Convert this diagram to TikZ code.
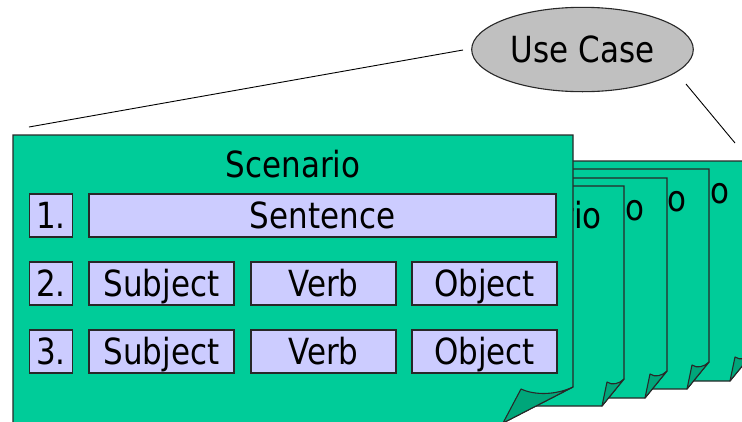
\documentclass[tikz,border=0pt]{standalone}
\usepackage{fontspec}
\setmainfont[FakeStretch=0.86]{DejaVu Sans}
\usetikzlibrary{shapes.geometric}
\definecolor{pagegreen}{RGB}{0,204,153}
\definecolor{flapgreen}{RGB}{0,166,122}
\definecolor{boxblue}{RGB}{204,204,255}
\definecolor{ucgray}{RGB}{192,192,192}
\definecolor{edge}{RGB}{40,40,40}
\begin{document}
\begin{tikzpicture}[x=1pt,y=-1pt,
  every node/.style={font=\fontsize{36}{40}\selectfont, text height=26.3pt, text depth=0pt},
  pageshape/.style={fill=pagegreen, draw=edge, line width=1.1pt, line join=miter},
  flapshape/.style={fill=flapgreen, draw=edge, line width=1.1pt, line join=round},
  cell/.style={draw=edge, fill=boxblue, line width=1.1pt, inner sep=0pt, minimum height=43pt},
  numcell/.style={cell, minimum width=43pt},
  wordcell/.style={cell, minimum width=145pt},
  pagetitle/.style={inner sep=0pt, text height=, text depth=},
  link/.style={draw=black, line width=0.9pt}]
\useasboundingbox (0,0) rectangle (742,421);
\clip (0,0) rectangle (742,421);

% connectors from the use case
\node[ellipse, draw=edge, line width=1.1pt, fill=ucgray, minimum width=221.6pt, minimum height=84.4pt, inner sep=0pt] (uc) at (582.5,49.5) {Use Case};
\coordinate (l1a) at (29,127);
\coordinate (l1b) at (463,50);
\coordinate (l2a) at (686,84);
\coordinate (l2b) at (735,143);
\draw[link] (l1a) -- (l1b);
\draw[link] (l2a) -- (l2b);

% stacked back pages
\foreach \R/\T/\n in {752/161/5, 709/169/4, 667/178/3, 624/186/2}{
  \pgfmathsetmacro{\B}{\T+220}
  \draw[pageshape] (\R-300,\T) -- (\R,\T) -- (\R,\B-27) -- (\R-22,\B) -- (\R-300,\B) -- cycle;
  \draw[flapshape] (\R-17,\B-24) .. controls (\R-12,\B-20.5) and (\R-5,\B-22) .. (\R,\B-27) -- (\R-22,\B) -- cycle;
  \node[pagetitle, anchor=base east] (sc\n) at (\R-22,\T+42) {Scenario};
}

% front page
\draw[pageshape] (13,135) -- (573,135) -- (573,387) -- (503,423) -- (13,423) -- cycle;
\draw[flapshape] (521,389) .. controls (535,395.5) and (556,395) .. (573,387) -- (503,423) -- cycle;
\node[pagetitle, anchor=base] (sc1) at (293,177) {Scenario};

% rows
\node[numcell] (n1) at (50.8,215.5) {1.};
\node[cell, minimum width=467pt] (sent) at (322.5,215.5) {Sentence};

\node[numcell] (n2) at (50.8,283.5) {2.};
\node[wordcell] (s2) at (161.5,283.5) {Subject};
\node[wordcell] (v2) at (323.5,283.5) {Verb};
\node[wordcell] (o2) at (484.5,283.5) {Object};

\node[numcell] (n3) at (50.8,351.5) {3.};
\node[wordcell] (s3) at (161.5,351.5) {Subject};
\node[wordcell] (v3) at (323.5,351.5) {Verb};
\node[wordcell] (o3) at (484.5,351.5) {Object};
\end{tikzpicture}
\end{document}
